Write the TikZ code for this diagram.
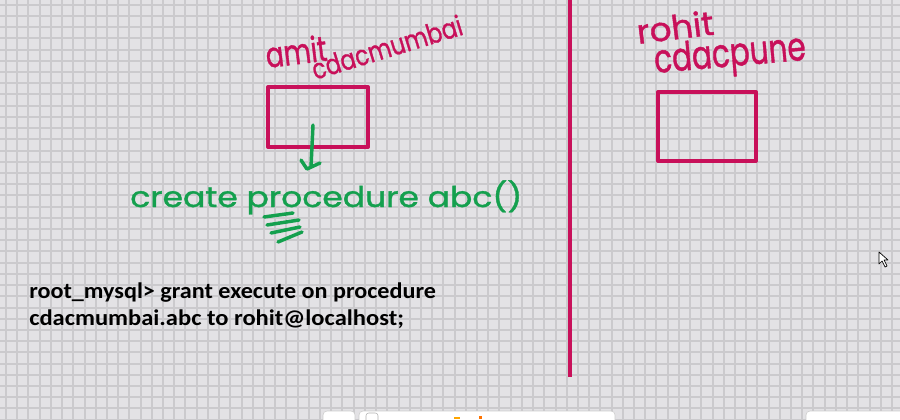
\documentclass[tikz,border=0pt]{standalone}
\usepackage{fontspec}
\usepackage{graphicx}
\setmainfont{Carlito}
\newfontfamily\handfont[FakeBold=1.2]{Poppins}
\usetikzlibrary{calc}
\definecolor{inkred}{RGB}{200,16,90}
\definecolor{inkgreen}{RGB}{20,160,78}
\definecolor{paper}{RGB}{227,226,229}
\definecolor{gridgray}{RGB}{203,202,205}
\newcommand{\hand}[3]{\resizebox{#1pt}{#2pt}{\handfont #3}}

\begin{document}
\begin{tikzpicture}[x=0.75pt,y=-0.75pt,
    redink/.style={line width=3pt, color=inkred, line cap=round, line join=round},
    greenink/.style={line width=2.6pt, color=inkgreen, line cap=round, line join=round},
    handred/.style={inner sep=0pt, anchor=base west, text=inkred},
    handgreen/.style={inner sep=0pt, anchor=base west, text=inkgreen}]
			%%%%% START %%%%%
			
			\fill[paper] (0, 0) rectangle (900, 419);
			\useasboundingbox (0, 0) rectangle (900, 419);
			
			\foreach \k in {0,...,80}
				\draw[line width=1.5pt, color=gridgray] (6+11.215*\k, 0) -- (6+11.215*\k, 419);
			\foreach \k in {0,...,37}
				\draw[line width=1.5pt, color=gridgray] (0, 4.7+11.215*\k) -- (900, 4.7+11.215*\k);
			
			% left side: amit
			\node[handred, rotate=7] (amit) at (267, 68) {\hand{46}{20}{amit}};
			\node[handred, rotate=17] (mumbai) at (315, 80) {\hand{117}{16}{cdacmumbai}};
			\draw[redink] (268, 87) rectangle (368, 147);
			
			\coordinate (arrowtop) at (313, 125);
			\coordinate (arrowtip) at (307, 169);
			\draw[greenink] (arrowtop) -- (311, 167);
			\draw[greenink] (301, 160) -- (arrowtip) -- (320, 163);
			
			\node[handgreen] (create) at (130, 207) {\hand{294}{20}{create procedure abc()}};
			
			\draw[greenink] (264, 217) -- (293, 213);
			\draw[greenink] (267, 225) -- (299, 220);
			\draw[greenink] (271, 233) -- (300, 227);
			\draw[greenink] (278, 242) -- (302, 232);
			
			\node[inner sep=0pt, anchor=base west] (grant1) at (29, 298) {\resizebox{305pt}{11.8pt}{\bfseries root\_mysql> grant execute on procedure}};
			\node[inner sep=0pt, anchor=base west] (grant2) at (29, 325) {\resizebox{281pt}{11.8pt}{\bfseries cdacmumbai.abc to rohit@localhost;}};
			
			% divider
			\draw[line width=2.3pt, color=inkred] (570, 0) -- (570, 377);
			
			% right side: rohit
			\node[handred, rotate=7] (rohit) at (638, 44) {\hand{58}{19}{rohit}};
			\node[handred, rotate=5] (pune) at (655, 73) {\hand{114}{22}{cdacpune}};
			\draw[redink] (658, 92) rectangle (756, 161);
			
			% pointer
			\draw[fill=white, line width=0.5pt, line join=round] (879, 252) -- (879, 264) -- (882, 261) -- (885, 267) -- (887, 266) -- (884, 260) -- (888, 260) -- cycle;
			
			% bottom bar
			\draw[fill=white, draw=gray!40, rounded corners=3pt] (323, 411) rectangle (355, 430);
			\draw[fill=white, draw=gray!40, rounded corners=3pt] (359, 411) rectangle (615, 430);
			\draw[fill=white, draw=gray!60, rounded corners=2pt] (366, 413) rectangle (378, 425);
			\fill[orange!70!yellow] (454, 417) rectangle (460, 419);
			\fill[orange!90!red] (479, 416) rectangle (482, 419);
			\draw[fill=white, draw=gray!40, rounded corners=3pt] (806, 411) rectangle (910, 430);
			
			%%%%% END %%%%%
\end{tikzpicture}
\end{document}
